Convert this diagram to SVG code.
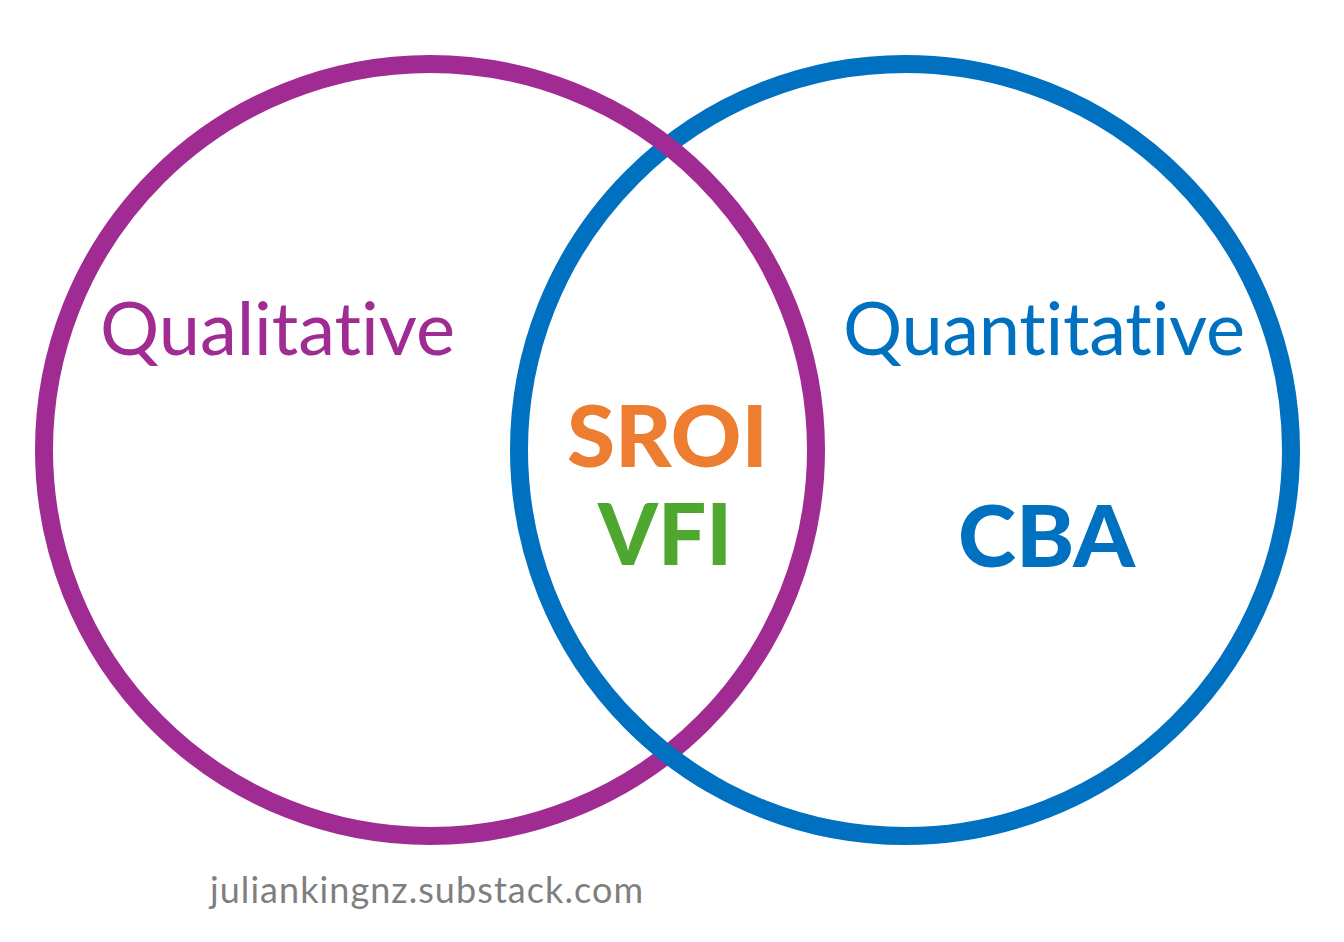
<svg xmlns="http://www.w3.org/2000/svg" width="1344" height="942" viewBox="0 0 1344 942">
<style>
text{font-variant-ligatures:none;font-feature-settings:"liga" 0,"clig" 0}
.ring{fill:none;stroke-width:18}
.lbl{font-family:Lato,"Open Sans",sans-serif;font-weight:400;font-size:74px}
.big{font-family:Lato,"Open Sans",sans-serif;font-weight:900;font-size:86px}
</style>
<rect width="1344" height="942" fill="#fff"/>
<g id="quantitative-circle"><circle class="ring" cx="905" cy="450" r="386" stroke="#0070C0"/></g>
<g id="qualitative-circle"><circle class="ring" cx="430" cy="450" r="386" stroke="#A02B93"/></g>
<g id="weave"><path class="ring" d="M712 784.3 A386 386 0 0 1 627.3 718.1" stroke="#0070C0"/></g>
<g id="qualitative"><text class="lbl" x="100" y="355" fill="#A02B93" textLength="355" lengthAdjust="spacing">Qualitative</text></g>
<g id="quantitative"><text class="lbl" x="843" y="355" fill="#0070C0" textLength="402" lengthAdjust="spacing">Quantitative</text></g>
<g id="sroi"><text class="big" x="567" y="467" fill="#ED7D31" textLength="201" lengthAdjust="spacingAndGlyphs">SROI</text></g>
<g id="vfi"><text class="big" x="598" y="565" fill="#4EA72E" textLength="134" lengthAdjust="spacingAndGlyphs">VFI</text></g>
<g id="cba"><text class="big" x="958" y="567" fill="#0070C0" textLength="177" lengthAdjust="spacingAndGlyphs">CBA</text></g>
<g id="footer"><text x="210" y="903" font-family="Lato,'Open Sans',sans-serif" font-size="36" fill="#7F7F7F" textLength="433" lengthAdjust="spacing">juliankingnz.substack.com</text></g>
</svg>
